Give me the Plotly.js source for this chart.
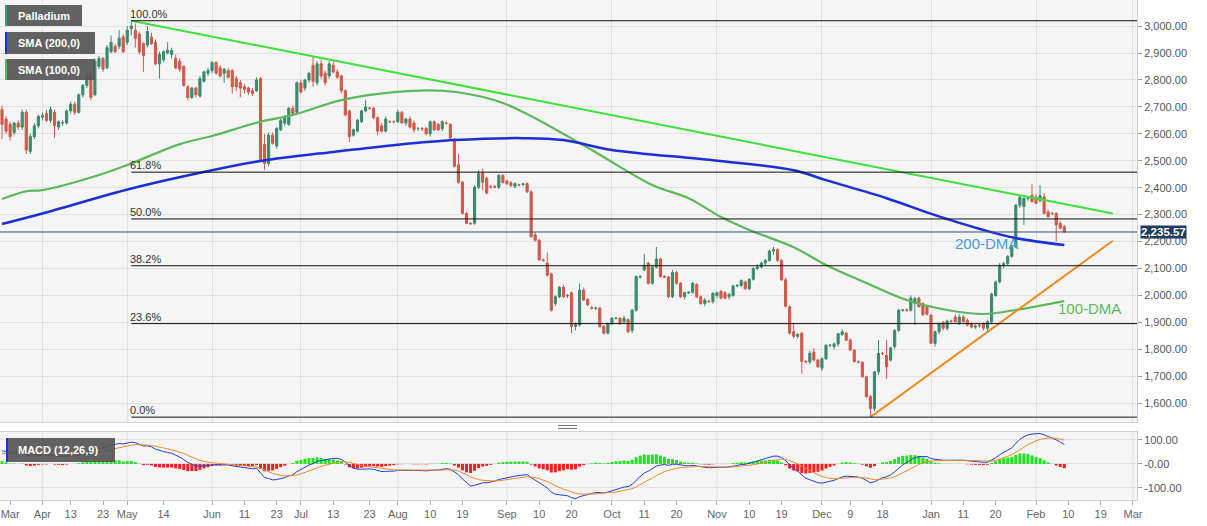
<!DOCTYPE html>
<html><head><meta charset="utf-8">
<script src="https://cdn.plot.ly/plotly-3.0.1.min.js"></script>
<style>html,body{margin:0;padding:0;background:#fff;}#chart{width:1207px;height:526px;}</style>
</head><body><div id="chart"></div>
<script>
// ---------- DATA ----------
const dates = [
'2021-03-18','2021-03-19','2021-03-22','2021-03-23','2021-03-24','2021-03-25','2021-03-26','2021-03-29','2021-03-30','2021-03-31',
'2021-04-01','2021-04-05','2021-04-06','2021-04-07','2021-04-08','2021-04-09','2021-04-12','2021-04-13','2021-04-14','2021-04-15',
'2021-04-16','2021-04-19','2021-04-20','2021-04-21','2021-04-22','2021-04-23','2021-04-26','2021-04-27','2021-04-28','2021-04-29',
'2021-04-30','2021-05-03','2021-05-04','2021-05-05','2021-05-06','2021-05-07','2021-05-10','2021-05-11','2021-05-12','2021-05-13',
'2021-05-14','2021-05-17','2021-05-18','2021-05-19','2021-05-20','2021-05-21','2021-05-24','2021-05-25','2021-05-26','2021-05-27',
'2021-05-28','2021-05-31','2021-06-01','2021-06-02','2021-06-03','2021-06-04','2021-06-07','2021-06-08','2021-06-09','2021-06-10',
'2021-06-11','2021-06-14','2021-06-15','2021-06-16','2021-06-17','2021-06-18','2021-06-21','2021-06-22','2021-06-23','2021-06-24',
'2021-06-25','2021-06-28','2021-06-29','2021-06-30','2021-07-01','2021-07-02','2021-07-05','2021-07-06','2021-07-07','2021-07-08',
'2021-07-09','2021-07-12','2021-07-13','2021-07-14','2021-07-15','2021-07-16','2021-07-18','2021-07-19','2021-07-20','2021-07-21',
'2021-07-22','2021-07-23','2021-07-25','2021-07-26','2021-07-27','2021-07-28','2021-07-29','2021-07-30','2021-08-01','2021-08-02',
'2021-08-03','2021-08-04','2021-08-05','2021-08-06','2021-08-08','2021-08-09','2021-08-10','2021-08-11','2021-08-12','2021-08-13',
'2021-08-15','2021-08-16','2021-08-17','2021-08-18','2021-08-19','2021-08-20','2021-08-22','2021-08-23','2021-08-24','2021-08-25',
'2021-08-26','2021-08-27','2021-08-29','2021-08-30','2021-08-31','2021-09-01','2021-09-02','2021-09-03','2021-09-05','2021-09-06',
'2021-09-07','2021-09-08','2021-09-09','2021-09-10','2021-09-12','2021-09-13','2021-09-14','2021-09-15','2021-09-16','2021-09-17',
'2021-09-19','2021-09-20','2021-09-21','2021-09-22','2021-09-23','2021-09-24','2021-09-26','2021-09-27','2021-09-28','2021-09-29',
'2021-09-30','2021-10-01','2021-10-03','2021-10-04','2021-10-05','2021-10-06','2021-10-07','2021-10-08','2021-10-10','2021-10-11',
'2021-10-12','2021-10-13','2021-10-14','2021-10-15','2021-10-17','2021-10-18','2021-10-19','2021-10-20','2021-10-21','2021-10-22',
'2021-10-24','2021-10-25','2021-10-26','2021-10-27','2021-10-28','2021-10-29','2021-10-31','2021-11-01','2021-11-02','2021-11-03',
'2021-11-04','2021-11-05','2021-11-07','2021-11-08','2021-11-09','2021-11-10','2021-11-11','2021-11-12','2021-11-14','2021-11-15',
'2021-11-16','2021-11-17','2021-11-18','2021-11-19','2021-11-21','2021-11-22','2021-11-23','2021-11-24','2021-11-25','2021-11-26',
'2021-11-28','2021-11-29','2021-11-30','2021-12-01','2021-12-02','2021-12-03','2021-12-05','2021-12-06','2021-12-07','2021-12-08',
'2021-12-09','2021-12-10','2021-12-12','2021-12-13','2021-12-14','2021-12-15','2021-12-16','2021-12-17','2021-12-19','2021-12-20',
'2021-12-21','2021-12-22','2021-12-23','2021-12-24','2021-12-26','2021-12-27','2021-12-28','2021-12-29','2021-12-30','2021-12-31',
'2022-01-02','2022-01-03','2022-01-04','2022-01-05','2022-01-06','2022-01-07','2022-01-09','2022-01-10','2022-01-11','2022-01-12',
'2022-01-13','2022-01-14','2022-01-16','2022-01-17','2022-01-18','2022-01-19','2022-01-20','2022-01-21','2022-01-23','2022-01-24',
'2022-01-25','2022-01-26','2022-01-27','2022-01-28','2022-01-30','2022-01-31','2022-02-01','2022-02-02','2022-02-03','2022-02-04',
'2022-02-06','2022-02-07','2022-02-08','2022-02-09'];

const futureDates = ['2022-02-10','2022-02-11','2022-02-13','2022-02-14','2022-02-15','2022-02-16','2022-02-17','2022-02-18','2022-02-19',
'2022-02-21','2022-02-22','2022-02-23','2022-02-24','2022-02-25','2022-02-27','2022-02-28','2022-03-01','2022-03-02'];

const openP = [
2690,2655,2635,2605,2640,2625,2680,2535,2590,2630,
2662,2675,2650,2680,2625,2640,2640,2685,2710,2680,
2745,2780,2818,2745,2850,2880,2845,2905,2925,2925,
2960,2940,2990,2985,2970,2935,2930,2960,2940,2860,
2875,2900,2895,2880,2870,2850,2775,2735,2770,2740,
2795,2825,2835,2865,2845,2825,2835,2835,2805,2790,
2775,2770,2760,2760,2805,2560,2490,2595,2555,2615,
2640,2635,2695,2680,2790,2770,2800,2855,2790,2860,
2825,2815,2855,2830,2815,2760,2685,2595,2610,2645,
2685,2695,2695,2660,2630,2610,2645,2645,2645,2680,
2640,2655,2640,2620,2620,2620,2600,2645,2635,2620,
2640,2635,2580,2485,2420,2305,2268,2268,2402,2455,
2435,2405,2404,2402,2446,2425,2418,2405,2410,2412,
2415,2385,2225,2205,2132,2120,2080,1970,1995,2030,
1998,2010,1885,1890,2020,1985,1955,1952,1953,1885,
1860,1895,1915,1915,1902,1910,1870,1945,2068,2095,
2120,2045,2105,2135,2070,2068,1995,2085,2045,1995,
2010,2012,2040,1995,1970,1978,1977,2000,2015,2010,
1995,2000,2035,2037,2050,2025,2060,2100,2106,2120,
2130,2165,2170,2130,2058,1958,1865,1848,1860,1755,
1753,1790,1760,1730,1765,1815,1810,1820,1855,1860,
1834,1797,1754,1752,1698,1624,1580,1716,1785,1778,
1760,1810,1870,1945,1946,1945,1970,1990,1970,1958,
1927,1822,1865,1900,1878,1905,1920,1895,1920,1908,
1895,1883,1890,1895,1878,1902,2000,2050,2112,2118,
2145,2180,2335,2330,2360,2372,2365,2352,2366,2310,
2305,2304,2268,2255];

const highP = [
2705,2665,2645,2645,2650,2690,2690,2600,2640,2672,
2680,2690,2700,2690,2650,2650,2690,2720,2720,2750,
2785,2830,2830,2880,2890,2885,2930,2965,2935,2985,
2970,3000,3020,3010,2980,2940,3000,2975,2950,2905,
2910,2940,2920,2895,2880,2855,2780,2775,2775,2815,
2835,2845,2870,2870,2855,2845,2845,2840,2815,2800,
2785,2775,2770,2810,2810,2600,2605,2605,2625,2660,
2670,2700,2705,2795,2800,2805,2830,2885,2870,2875,
2835,2870,2870,2840,2820,2765,2690,2620,2655,2690,
2725,2700,2700,2665,2640,2665,2650,2650,2690,2685,
2660,2665,2650,2625,2625,2625,2650,2650,2640,2650,
2645,2640,2585,2525,2425,2310,2272,2410,2465,2472,
2440,2410,2410,2450,2450,2430,2425,2420,2415,2418,
2420,2390,2235,2210,2138,2160,2085,2000,2035,2040,
2005,2015,1900,2045,2030,1990,1960,1958,1958,1890,
1900,1920,1920,1920,1925,1915,1950,2075,2075,2155,
2125,2110,2180,2140,2075,2072,2095,2090,2050,2015,
2015,2050,2045,2000,1990,1985,2012,2015,2020,2015,
2010,2040,2042,2060,2055,2065,2105,2115,2125,2135,
2170,2180,2175,2135,2065,1962,1895,1860,1865,1760,
1795,1805,1765,1770,1820,1820,1825,1860,1875,1865,
1840,1800,1758,1755,1702,1630,1720,1835,1790,1835,
1810,1875,1950,1950,1952,2000,1995,1995,1975,1962,
1930,1870,1900,1905,1910,1910,1930,1930,1928,1915,
1900,1892,1895,1900,1910,2010,2055,2120,2125,2150,
2185,2340,2370,2372,2368,2415,2375,2410,2380,2318,
2310,2310,2275,2262];

const lowP = [
2580,2600,2575,2595,2615,2615,2525,2525,2580,2620,
2650,2645,2640,2585,2615,2630,2635,2675,2670,2675,
2735,2770,2725,2740,2840,2830,2840,2900,2900,2915,
2900,2930,2965,2920,2895,2830,2920,2930,2855,2805,
2865,2895,2880,2840,2830,2775,2725,2730,2735,2735,
2790,2815,2825,2820,2810,2790,2805,2750,2760,2735,
2750,2745,2740,2755,2500,2465,2480,2560,2545,2610,
2630,2630,2670,2675,2750,2760,2790,2775,2780,2805,
2780,2805,2825,2805,2750,2665,2570,2590,2605,2640,
2680,2690,2655,2595,2605,2605,2640,2640,2640,2640,
2630,2620,2605,2610,2610,2595,2590,2610,2610,2610,
2635,2580,2475,2415,2300,2265,2262,2262,2395,2390,
2375,2395,2398,2395,2415,2410,2402,2398,2405,2405,
2380,2215,2200,2130,2125,2070,1940,1960,1990,1990,
1990,1860,1870,1885,1980,1960,1948,1945,1880,1855,
1855,1890,1910,1890,1895,1860,1860,1940,2062,2090,
2040,2040,2100,2065,2065,1990,1990,2040,1990,1985,
2005,2005,1990,1965,1960,1972,1970,1990,1985,1985,
1985,1995,2030,2030,2020,2020,2055,2095,2100,2112,
2125,2150,2125,2055,1955,1855,1840,1840,1710,1748,
1745,1755,1730,1720,1760,1808,1800,1810,1850,1830,
1795,1752,1748,1695,1620,1548,1570,1705,1778,1690,
1755,1800,1865,1940,1940,1940,1890,1955,1925,1925,
1820,1810,1855,1870,1870,1898,1900,1890,1900,1885,
1878,1876,1880,1870,1865,1895,1995,2045,2100,2110,
2140,2175,2325,2262,2352,2345,2340,2345,2300,2290,
2298,2200,2245,2232];

const closeP = [
2635,2610,2590,2640,2625,2680,2540,2590,2630,2665,
2668,2650,2690,2630,2645,2642,2685,2710,2680,2745,
2780,2818,2735,2870,2880,2840,2920,2940,2905,2955,
2905,2985,3000,2955,2905,2890,2980,2935,2860,2895,
2905,2910,2910,2845,2840,2780,2735,2770,2745,2805,
2830,2835,2865,2825,2815,2840,2810,2775,2775,2770,
2765,2755,2750,2800,2505,2490,2595,2565,2620,2650,
2660,2695,2675,2790,2755,2800,2825,2795,2860,2815,
2790,2860,2830,2810,2760,2670,2590,2615,2650,2685,
2700,2695,2660,2610,2610,2655,2645,2645,2680,2640,
2655,2625,2615,2620,2618,2600,2645,2615,2615,2645,
2640,2585,2480,2420,2305,2268,2266,2402,2452,2420,
2380,2404,2402,2446,2420,2415,2408,2415,2410,2414,
2385,2218,2205,2132,2130,2075,1945,1995,2030,1995,
2000,1885,1892,2020,1983,1965,1952,1953,1885,1860,
1895,1915,1915,1897,1915,1865,1945,2070,2070,2112,
2045,2105,2135,2070,2068,1995,2085,2045,1995,2010,
2012,2045,1995,1970,1983,1977,2008,2010,1990,1990,
2003,2035,2037,2055,2025,2060,2100,2106,2120,2130,
2165,2170,2130,2058,1960,1860,1848,1855,1755,1753,
1785,1760,1735,1765,1815,1815,1820,1858,1865,1834,
1797,1754,1752,1698,1624,1580,1716,1785,1784,1735,
1805,1870,1945,1946,1945,1990,1988,1958,1928,1930,
1822,1865,1895,1878,1905,1904,1902,1920,1902,1890,
1883,1886,1888,1878,1902,2005,2050,2112,2118,2145,
2180,2335,2365,2360,2362,2348,2342,2370,2305,2292,
2304,2262,2250,2235.57];

// 200-day SMA read at sampled bars
const sma200Dates = ['2021-03-18','2021-04-01','2021-05-04','2021-06-01','2021-06-17','2021-07-13','2021-07-30','2021-08-17','2021-09-06','2021-09-17','2021-10-01','2021-10-31','2021-11-23','2021-12-02','2021-12-20','2022-01-03','2022-01-17','2022-01-26','2022-02-09'];
const sma200Values = [2265,2304,2397,2465,2499,2533,2558,2577,2584,2577,2540,2502,2465,2428,2361,2298,2243,2213,2187];
// 100-day SMA read at sampled bars
const sma100Dates = ['2021-03-18','2021-03-26','2021-04-01','2021-04-22','2021-05-04','2021-05-20','2021-06-01','2021-06-17','2021-06-29','2021-07-15','2021-07-30','2021-08-13','2021-08-29','2021-09-06','2021-09-26','2021-10-13','2021-10-24','2021-11-02','2021-11-10','2021-11-23','2021-12-02','2021-12-14','2021-12-26','2022-01-06','2022-01-17','2022-01-26','2022-02-09'];
const sma100Values = [2358,2387,2391,2447,2490,2562,2592,2645,2670,2725,2755,2760,2725,2681,2540,2410,2361,2291,2243,2179,2113,2046,1983,1946,1931,1946,1979];

// trend lines
const resistX = ['2021-05-04','2022-02-23'];
const resistY = [3020, 2304];
const supportX = ['2021-12-15','2022-02-23'];
const supportY = [1548, 2203];

// fibonacci ratios
const fibRatios = [1.0, 0.618, 0.5, 0.382, 0.236, 0.0];
const fibLabels = ['100.0%','61.8%','50.0%','38.2%','23.6%','0.0%'];

// MACD settings & starting state
const macdFast = 12, macdSlow = 26, macdSig = 9;
const fastSeed = 2590, slowSeed = 2535, signalSeed = 40;

// axis labels
const tickDates = ['2021-03-22','2021-04-01','2021-04-13','2021-04-23','2021-05-03','2021-05-14','2021-06-01','2021-06-11','2021-06-23','2021-07-01','2021-07-13','2021-07-23','2021-08-01','2021-08-10','2021-08-19','2021-09-01','2021-09-10','2021-09-20','2021-10-01','2021-10-11','2021-10-20','2021-11-01','2021-11-10','2021-11-19','2021-12-01','2021-12-09','2021-12-19','2022-01-02','2022-01-11','2022-01-20','2022-02-01','2022-02-10','2022-02-19','2022-03-01'];
const tickLabels = ['Mar','Apr','13','23','May','14','Jun','11','23','Jul','13','23','Aug','10','19','Sep','10','20','Oct','11','20','Nov','10','19','Dec','9','18','Jan','11','20','Feb','10','19','Mar'];
const monthDates = ['2021-04-01','2021-05-03','2021-06-01','2021-07-01','2021-08-01','2021-09-01','2021-10-01','2021-11-01','2021-12-01','2022-01-02','2022-02-01','2022-03-01'];

// ---------- DERIVED ----------
const allDates = dates.concat(futureDates);
function ema(arr, n, seed){ const k = 2/(n+1); let e = seed; return arr.map(v => (e = v*k + e*(1-k))); }
const emaF = ema(closeP, macdFast, fastSeed);
const emaS = ema(closeP, macdSlow, slowSeed);
const macd = emaF.map((v,i) => v - emaS[i]);
const signal = ema(macd, macdSig, signalSeed);
const hist = macd.map((v,i) => v - signal[i]);

const hiVal = Math.max(...highP), loVal = Math.min(...lowP);
const hiDate = dates[highP.indexOf(hiVal)];
const lastFuture = futureDates[futureDates.length-1];
const lastClose = closeP[closeP.length-1];
const fibLevels = fibRatios.map(r => loVal + r*(hiVal-loVal));

const FONT = 'Arial, "Liberation Sans", sans-serif';
const PW = 1137, PH = 500;
const px = v => v/PW, py = v => 1 - v/PH;

const traces = [
  {type:'candlestick', x:dates, open:openP, high:highP, low:lowP, close:closeP, xaxis:'x', yaxis:'y',
   increasing:{line:{color:'#3a8a6c', width:1}, fillcolor:'#3a8a6c'},
   decreasing:{line:{color:'#d0594a', width:1}, fillcolor:'#d0594a'},
   whiskerwidth:0, hoverinfo:'skip'},
  {type:'scatter', mode:'lines', x:futureDates, y:futureDates.map(()=>null), xaxis:'x', yaxis:'y', hoverinfo:'skip'},
  {type:'scatter', mode:'lines', x:sma100Dates, y:sma100Values, line:{color:'#5cb85c', width:2.2, shape:'spline', smoothing:1}, hoverinfo:'skip'},
  {type:'scatter', mode:'lines', x:sma200Dates, y:sma200Values, line:{color:'#1a2fd4', width:2.5, shape:'spline', smoothing:1}, hoverinfo:'skip'},
  {type:'scatter', mode:'lines', x:resistX, y:resistY, line:{color:'#3fe03a', width:2}, hoverinfo:'skip'},
  {type:'scatter', mode:'lines', x:supportX, y:supportY, line:{color:'#f08a22', width:2}, hoverinfo:'skip'},
  {type:'bar', x:dates, y:hist, xaxis:'x2', yaxis:'y2', marker:{color:hist.map(v => v >= 0 ? '#22e022' : '#f02020')}, hoverinfo:'skip'},
  {type:'scatter', mode:'lines', x:dates, y:macd, xaxis:'x2', yaxis:'y2', line:{color:'#2240d8', width:1}, hoverinfo:'skip'},
  {type:'scatter', mode:'lines', x:dates, y:signal, xaxis:'x2', yaxis:'y2', line:{color:'#f08a2a', width:1}, hoverinfo:'skip'},
  {type:'scatter', mode:'lines', x:futureDates, y:futureDates.map(()=>null), xaxis:'x2', yaxis:'y2', hoverinfo:'skip'}
];

const shapes = [];
fibLevels.forEach(lv => shapes.push({type:'line', xref:'x', yref:'y', x0:hiDate, x1:lastFuture, y0:lv, y1:lv, line:{color:'#111', width:1}}));
shapes.push({type:'line', xref:'paper', yref:'y', x0:0, x1:1, y0:lastClose, y1:lastClose, line:{color:'#34506f', width:1}});
monthDates.forEach(d => shapes.push({type:'line', xref:'x2', yref:'y2 domain', x0:d, x1:d, y0:0, y1:1, layer:'below', line:{color:'#e2e2e2', width:1}}));
// legend boxes
const boxes = [[5,82,5,26,'#3f9a78'],[5,95,32,54,'#1a33d0'],[5,95,59,80,'#5cb85c'],[6,115,438,462,'#1a33d0']];
boxes.forEach(b => {
  shapes.push({type:'rect', xref:'paper', yref:'paper', x0:px(b[0]), x1:px(b[1]), y0:py(b[3]), y1:py(b[2]), fillcolor:'rgba(85,85,85,0.92)', line:{width:0}, layer:'above'});
  shapes.push({type:'rect', xref:'paper', yref:'paper', x0:px(b[0]), x1:px(b[0]+2), y0:py(b[3]), y1:py(b[2]), fillcolor:b[4], line:{width:0}, layer:'above'});
});
// panel splitter handle
shapes.push({type:'line', xref:'paper', yref:'paper', x0:px(558), x1:px(577), y0:py(425.5), y1:py(425.5), line:{color:'#777', width:1}});
shapes.push({type:'line', xref:'paper', yref:'paper', x0:px(558), x1:px(577), y0:py(428.5), y1:py(428.5), line:{color:'#777', width:1}});

const annotations = [];
fibLevels.forEach((lv,i) => annotations.push({xref:'x', yref:'y', x:hiDate, y:lv, text:fibLabels[i], showarrow:false, xanchor:'left', yanchor:'bottom', xshift:-3, yshift:-1, font:{family:FONT, size:11, color:'#333'}}));
[['Palladium',16,15.5],['SMA (200,0)',16,43],['SMA (100,0)',16,69.5],['MACD (12,26,9)',16,450]].forEach(a =>
  annotations.push({xref:'paper', yref:'paper', x:px(a[1]), y:py(a[2]), text:'<b>'+a[0]+'</b>', showarrow:false, xanchor:'left', yanchor:'middle', font:{family:FONT, size:11, color:'#ffffff'}}));
annotations.push({xref:'paper', yref:'paper', x:px(953), y:py(243), text:'200-DMA', showarrow:false, xanchor:'left', yanchor:'middle', font:{family:FONT, size:15, color:'#3d9de0'}});
annotations.push({xref:'paper', yref:'paper', x:px(1056), y:py(308), text:'100-DMA', showarrow:false, xanchor:'left', yanchor:'middle', font:{family:FONT, size:15, color:'#5cb85c'}});
annotations.push({xref:'paper', yref:'y', x:1, y:lastClose, text:'<b>'+lastClose.toLocaleString('en-US',{minimumFractionDigits:2, maximumFractionDigits:2})+'</b>', showarrow:false, xanchor:'left', yanchor:'middle', xshift:3, bgcolor:'#1f3b5e', borderpad:0, font:{family:FONT, size:11.5, color:'#ffffff'}});

const catAxis = {type:'category', categoryorder:'array', categoryarray:allDates, range:[-0.5, allDates.length-1], fixedrange:true, zeroline:false, rangeslider:{visible:false}};
const layout = {
  width:1207, height:526, margin:{l:0, r:70, t:0, b:26},
  paper_bgcolor:'#ffffff', plot_bgcolor:'#f5f5f5', showlegend:false,
  font:{family:FONT, size:11, color:'#555'},
  bargap:0.25, boxgap:0.25,
  xaxis:Object.assign({}, catAxis, {anchor:'y', showticklabels:false, tickmode:'array', tickvals:monthDates, ticks:'', showgrid:true, gridcolor:'#e2e2e2', showline:true, mirror:true, linecolor:'#d3d3d3'}),
  yaxis:{domain:[0.156,1], anchor:'x', side:'right', range:[1530,3097], tick0:0, dtick:100, tickformat:',.2f', ticks:'outside', ticklen:4, tickcolor:'#999', gridcolor:'#e2e2e2', showline:true, mirror:true, linecolor:'#d3d3d3', zeroline:false, fixedrange:true, tickfont:{size:11, color:'#555'}},
  xaxis2:Object.assign({}, catAxis, {anchor:'y2', tickmode:'array', tickvals:tickDates, ticktext:tickLabels, ticks:'outside', ticklen:4, tickcolor:'#aaa', showgrid:false, showline:true, mirror:true, linecolor:'#d3d3d3', tickfont:{size:11, color:'#666'}}),
  yaxis2:{domain:[0,0.136], anchor:'x2', side:'right', range:[-150,133], tickmode:'array', tickvals:[-100,0,100], ticktext:['-100.00','-0.00','100.00'], ticks:'outside', ticklen:4, tickcolor:'#999', gridcolor:'#e2e2e2', showline:true, mirror:true, linecolor:'#d3d3d3', zeroline:false, fixedrange:true, tickfont:{size:11, color:'#555'}},
  shapes:shapes, annotations:annotations
};
Plotly.newPlot('chart', traces, layout, {displayModeBar:false, staticPlot:true});
</script>
</body></html>
